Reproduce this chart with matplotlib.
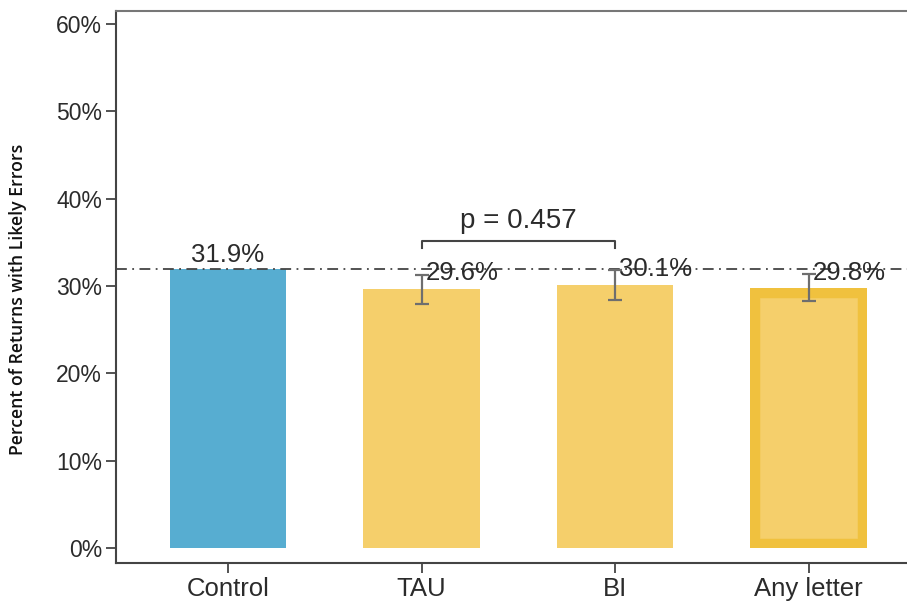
import matplotlib
matplotlib.use("Agg")
import matplotlib.pyplot as plt
import numpy as np

# Share of returns with likely errors, by letter condition
categories = ["Control", "TAU", "BI", "Any letter"]
values = [31.9, 29.6, 30.1, 29.8]
ci_half = [None, 1.7, 1.7, 1.55]
value_labels = ["31.9%", "29.6%", "30.1%", "29.8%"]
yticks = [0, 10, 20, 30, 40, 50, 60]
ytick_labels = ["0%", "10%", "20%", "30%", "40%", "50%", "60%"]
p_text = "p = 0.457"
p_pair = ("TAU", "BI")
control_value = 31.9

blue = "#57add1"
yellow = "#f5cf6b"
gold = "#f0c13e"
dark = "#2b2b2b"
grey = "#6e6e6e"

plt.rcParams["font.family"] = ["Liberation Sans", "DejaVu Sans"]

fig = plt.figure(figsize=(9.07, 6.08), dpi=100)
ax = fig.add_axes([116 / 907, 45 / 608, (924.6 - 116) / 907, (563 - 11) / 608])

x = np.arange(len(categories))
colors = [blue, yellow, yellow, yellow]
bars = ax.bar(x, values, width=0.6, color=colors, zorder=2)

# "Any letter" bar gets a darker inner border clipped to the bar itself
hl = bars[3]
hl.set_edgecolor(gold)
hl.set_linewidth(14)
hl.set_clip_path(hl)

# error bars for the letter conditions
for xi, v, h in zip(x, values, ci_half):
    if h is None:
        continue
    ax.errorbar(xi, v, yerr=h, fmt="none", ecolor=grey, elinewidth=1.6,
                capsize=5, capthick=1.6, zorder=4)

# control reference line
ax.axhline(control_value, color="#444444", lw=1.3, ls=(0, (6, 3, 1, 3)), zorder=3)

# value labels
for xi, v, h, lab in zip(x, values, ci_half, value_labels):
    if h is None:
        ax.annotate(lab, (xi, v), xytext=(0, 2), textcoords="offset points",
                    ha="center", va="bottom", fontsize=18.5, color=dark, zorder=5)
    else:
        ax.annotate(lab, (xi, v + h), xytext=(3, 1), textcoords="offset points",
                    ha="left", va="center", fontsize=18.5, color=dark, zorder=5)

# significance bracket
i0, i1 = categories.index(p_pair[0]), categories.index(p_pair[1])
yb = 35.2
ax.plot([i0, i0, i1, i1], [yb - 0.8, yb, yb, yb - 0.8], color="#444444", lw=1.5,
        zorder=4)
ax.text((i0 + i1) / 2, yb + 0.8, p_text, ha="center", va="bottom", fontsize=20,
        color=dark)

ax.set_xlim(-0.579, 3.6)
ax.set_ylim(-1.72, 61.49)
ax.set_xticks(x)
ax.set_xticklabels(categories, fontsize=18.5, color=dark)
ax.set_yticks(yticks)
ax.set_yticklabels(ytick_labels, fontsize=16.5, color=dark)
ax.tick_params(axis="both", length=7, width=1.3, color="#444444", pad=3)

ax.spines["right"].set_visible(False)
ax.spines["left"].set_color("#444444")
ax.spines["left"].set_linewidth(1.5)
ax.spines["bottom"].set_color("#444444")
ax.spines["bottom"].set_linewidth(1.5)
ax.spines["top"].set_color("#777777")
ax.spines["top"].set_linewidth(1.5)

fig.text(18 / 907, 1 - 299 / 608, "Percent of Returns with Likely Errors",
         rotation=90, ha="center", va="center", fontsize=12.7,
         family=["Open Sans", "DejaVu Sans"], fontweight="semibold", color="#111111")

fig.savefig("out.png", dpi=100)
